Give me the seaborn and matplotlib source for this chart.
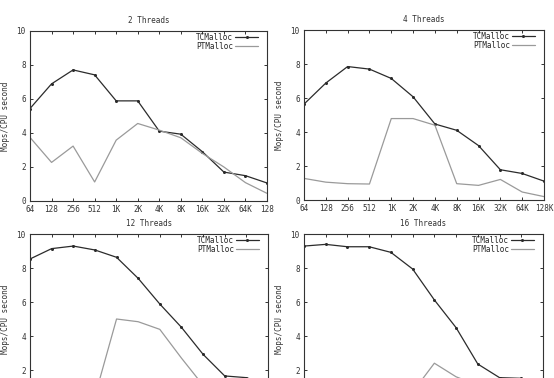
import numpy as np
import pandas as pd
import matplotlib
matplotlib.use('Agg')
import matplotlib.pyplot as plt
import seaborn as sns

# block sizes along x
sizes = ['64', '128', '256', '512', '1K', '2K', '4K', '8K', '16K', '32K', '64K', '128K']

# Mops/CPU second
tc_2 = [5.44, 6.89, 7.71, 7.42, 5.89, 5.89, 4.11, 3.93, 2.90, 1.70, 1.49, 1.06]
pt_2 = [3.74, 2.27, 3.23, 1.12, 3.58, 4.56, 4.17, 3.72, 2.80, 2.00, 1.08, 0.45]

tc_4 = [5.64, 6.88, 7.85, 7.70, 7.15, 6.07, 4.47, 4.10, 3.20, 1.78, 1.56, 1.11]
pt_4 = [1.27, 1.05, 0.96, 0.94, 4.79, 4.79, 4.40, 0.96, 0.86, 1.21, 0.47, 0.20]

tc_12 = [8.53, 9.14, 9.29, 9.06, 8.63, 7.39, 5.88, 4.51, 2.92, 1.65, 1.55, 1.10]
pt_12 = [0.50, 0.45, 0.45, 0.45, 5.00, 4.84, 4.39, 2.70, 1.10, 0.80, 0.50, 0.30]

tc_16 = [9.29, 9.39, 9.25, 9.25, 8.92, 7.94, 6.12, 4.49, 2.35, 1.55, 1.51, 1.10]
pt_16 = [0.60, 0.55, 0.55, 0.55, 0.60, 0.70, 2.40, 1.60, 1.10, 0.80, 0.50, 0.30]

titles = ['2 Threads', '4 Threads', '12 Threads', '16 Threads']
tc_all = [tc_2, tc_4, tc_12, tc_16]
pt_all = [pt_2, pt_4, pt_12, pt_16]

sns.set_style('ticks')
plt.rcParams['font.family'] = ['DejaVu Sans Mono', 'DejaVu Sans']

fig = plt.figure(figsize=(5.54, 3.78), dpi=100)
W, H = 554.0, 378.0
# axes boxes in pixels: left, top, right, bottom (bottom row runs off the page)
boxes = [(30, 31, 267, 201), (304, 30, 544, 200), (30, 234, 268, 404), (304, 234, 543, 404)]

fs = 5.5
for i, (l, t, r, b) in enumerate(boxes):
    ax = fig.add_axes([l / W, (H - b) / H, (r - l) / W, (b - t) / H])
    pos = np.arange(len(sizes))
    df = pd.DataFrame({'pos': pos, 'TCMalloc': tc_all[i], 'PTMalloc': pt_all[i]})
    sns.lineplot(data=df, x='pos', y='TCMalloc', ax=ax, color='#2b2b2b', lw=0.9,
                 marker='o', markersize=2.2, markeredgewidth=0, label='TCMalloc')
    sns.lineplot(data=df, x='pos', y='PTMalloc', ax=ax, color='#9a9a9a', lw=0.9,
                 label='PTMalloc')
    ax.set_xlim(0, len(sizes) - 1)
    ax.set_ylim(0, 10)
    ax.set_xticks(pos)
    labels = list(sizes)
    if i == 0:
        labels[-1] = '128'
    ax.set_xticklabels(labels)
    ax.set_yticks([0, 2, 4, 6, 8, 10] if i < 2 else [2, 4, 6, 8, 10])
    ax.tick_params(direction='in', length=2.5, width=0.7, top=True, right=True,
                   labelsize=fs, colors='#333333', pad=3)
    if i >= 2:
        # bottom row is cut off by the page edge, its size labels fall outside
        ax.tick_params(labelbottom=False)
    for s in ax.spines.values():
        s.set_color('#333333')
        s.set_linewidth(0.8)
    ax.set_xlabel('')
    ax.set_ylabel('Mops/CPU second', fontsize=fs, color='#333333')
    ax.yaxis.set_label_coords(-0.085 if i % 2 == 0 else -0.082, 0.5)
    ax.set_title(titles[i], fontsize=fs, color='#333333', pad=6)
    ax.legend(loc='upper right', bbox_to_anchor=(0.962, 0.99), frameon=False,
              markerfirst=False, fontsize=fs, handlelength=3.0, handletextpad=0.25,
              labelspacing=0.05, borderaxespad=0, borderpad=0)

fig.savefig('out.png', dpi=100)
